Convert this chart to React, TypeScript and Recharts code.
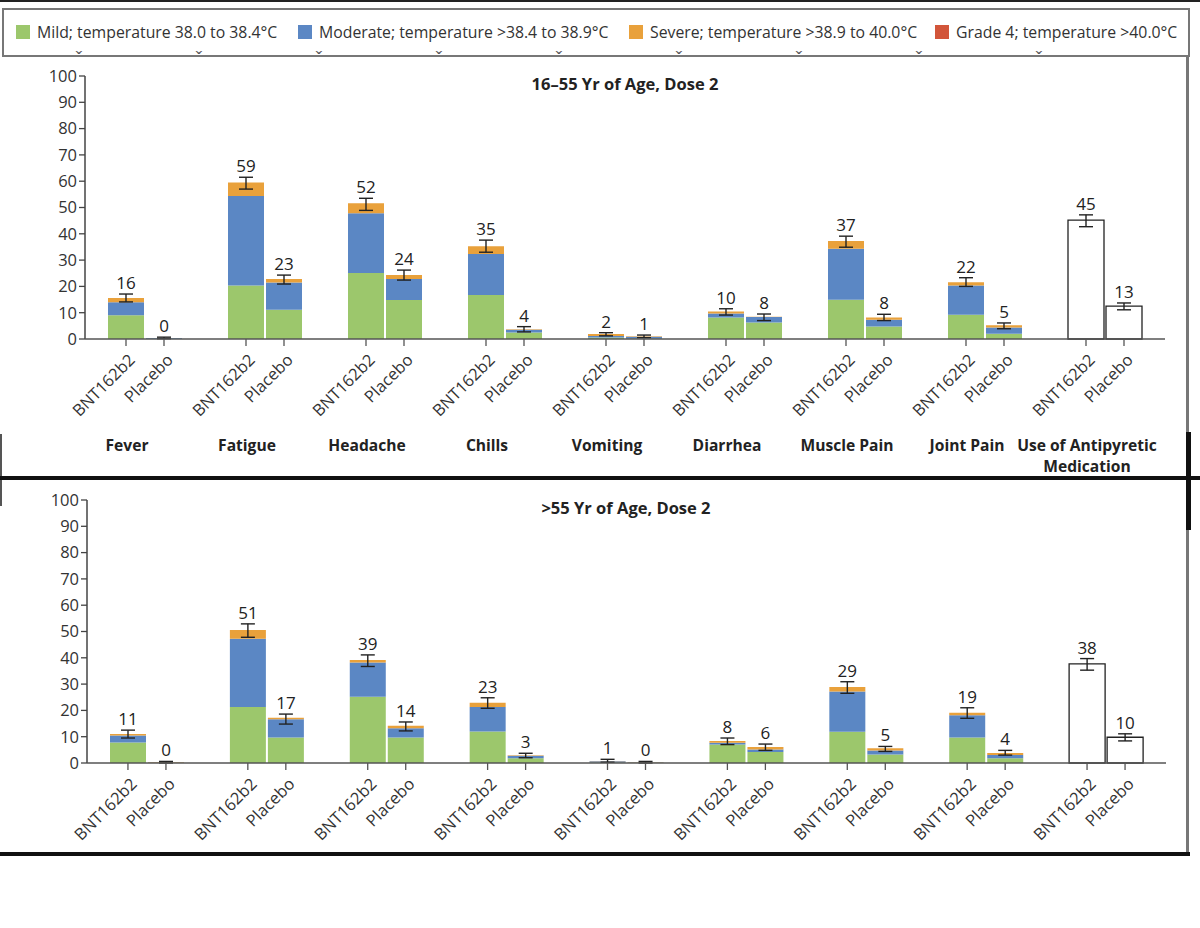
import React from 'react';
import { BarChart, Bar, XAxis, YAxis, ErrorBar, LabelList } from 'recharts';

// categories and axis ticks
const categories = [
  'Fever', 'Fatigue', 'Headache', 'Chills', 'Vomiting',
  'Diarrhea', 'Muscle Pain', 'Joint Pain', 'Use of Antipyretic\nMedication',
];
const groupNames = ['BNT162b2', 'Placebo'];
const yTicks = [0, 10, 20, 30, 40, 50, 60, 70, 80, 90, 100];

// 16–55 yr of age, dose 2 (percent of participants)
const youngBntMild = [9.0, 20.3, 25.1, 16.7, 0.6, 8.2, 14.9, 9.2, 0];
const youngBntModerate = [5.0, 34.1, 22.7, 15.6, 0.5, 1.5, 19.4, 11.1, 0];
const youngBntSevere = [1.6, 5.1, 3.8, 3.0, 0.8, 0.8, 3.0, 1.3, 0];
const youngBntGrade4 = [0, 0, 0, 0, 0, 0, 0, 0, 0];
const youngBntMedication = [0, 0, 0, 0, 0, 0, 0, 0, 45.2];
const youngBntErr = [[1.5, 1.5], [2.5, 2.0], [2.7, 1.9], [2.3, 2.3], [0.7, 0.5], [1.4, 1.0], [2.4, 1.8], [1.6, 1.7], [2.5, 2.0]];
const youngBntLabel = [16, 59, 52, 35, 2, 10, 37, 22, 45];

const youngPlaceboMild = [0.1, 11.1, 14.8, 2.5, 0.2, 6.3, 4.8, 2.0, 0];
const youngPlaceboModerate = [0.3, 10.4, 8.0, 1.0, 0.7, 2.1, 2.5, 2.4, 0];
const youngPlaceboSevere = [0, 1.3, 1.5, 0.2, 0.1, 0.1, 0.9, 0.8, 0];
const youngPlaceboGrade4 = [0, 0, 0, 0, 0, 0, 0, 0, 0];
const youngPlaceboMedication = [0, 0, 0, 0, 0, 0, 0, 0, 12.5];
const youngPlaceboErr = [[0.3, 0.3], [1.9, 1.5], [1.9, 1.9], [1.0, 1.0], [0.5, 0.5], [1.5, 1.0], [1.2, 1.2], [1.3, 0.9], [1.4, 1.2]];
const youngPlaceboLabel = [0, 23, 24, 4, 1, 8, 8, 5, 13];

// >55 yr of age, dose 2
const oldBntMild = [7.8, 21.3, 25.2, 12.0, 0.2, 7.0, 11.9, 9.7, 0];
const oldBntModerate = [2.7, 25.9, 13.0, 9.3, 0.5, 0.7, 15.3, 8.5, 0];
const oldBntSevere = [0.5, 3.4, 1.0, 1.6, 0.1, 0.7, 1.7, 0.9, 0];
const oldBntGrade4 = [0, 0, 0, 0, 0, 0, 0, 0, 0];
const oldBntMedication = [0, 0, 0, 0, 0, 0, 0, 0, 37.7];
const oldBntErr = [[1.5, 1.5], [2.8, 2.3], [2.5, 1.9], [2.1, 1.9], [0.5, 0.6], [1.4, 1.1], [2.4, 2.0], [2.1, 1.9], [2.4, 2.0]];
const oldBntLabel = [11, 51, 39, 23, 1, 8, 29, 19, 38];

const oldPlaceboMild = [0, 9.7, 9.7, 1.8, 0.1, 4.2, 3.2, 1.8, 0];
const oldPlaceboModerate = [0.1, 6.9, 3.5, 1.0, 0.1, 0.9, 1.6, 1.2, 0];
const oldPlaceboSevere = [0.2, 0.6, 1.0, 0.1, 0.1, 1.0, 0.8, 0.8, 0];
const oldPlaceboGrade4 = [0, 0, 0, 0, 0, 0, 0, 0, 0];
const oldPlaceboMedication = [0, 0, 0, 0, 0, 0, 0, 0, 9.8];
const oldPlaceboErr = [[0.3, 0.3], [2.4, 1.4], [2.0, 1.4], [0.9, 0.8], [0.3, 0.3], [1.3, 1.1], [1.2, 0.7], [0.8, 1.0], [1.4, 1.3]];
const oldPlaceboLabel = [0, 17, 14, 3, 0, 6, 5, 4, 10];

const legendItems = [
  { label: 'Mild; temperature 38.0 to 38.4°C', color: '#9CC76C', left: 16 },
  { label: 'Moderate; temperature >38.4 to 38.9°C', color: '#5B87C4', left: 298 },
  { label: 'Severe; temperature >38.9 to 40.0°C', color: '#E9A13B', left: 629 },
  { label: 'Grade 4; temperature >40.0°C', color: '#D2553A', left: 935 },
];

type Group = {
  mild: number[]; moderate: number[]; severe: number[]; grade4: number[];
  medication: number[]; err: number[][]; label: number[];
};

// the invisible "pad" segment sits on top of each stack (height = upper error),
// it carries the error bar (measured down from its top) and the value label
function buildRows(b: Group, p: Group) {
  return categories.map((category, i) => ({
    category,
    bMild: b.mild[i], bModerate: b.moderate[i], bSevere: b.severe[i], bGrade4: b.grade4[i],
    bMed: b.medication[i], bPad: b.err[i][1], bErr: [b.err[i][0] + b.err[i][1], 0], bLabel: b.label[i],
    pMild: p.mild[i], pModerate: p.moderate[i], pSevere: p.severe[i], pGrade4: p.grade4[i],
    pMed: p.medication[i], pPad: p.err[i][1], pErr: [p.err[i][0] + p.err[i][1], 0], pLabel: p.label[i],
  }));
}

const youngRows = buildRows(
  { mild: youngBntMild, moderate: youngBntModerate, severe: youngBntSevere, grade4: youngBntGrade4, medication: youngBntMedication, err: youngBntErr, label: youngBntLabel },
  { mild: youngPlaceboMild, moderate: youngPlaceboModerate, severe: youngPlaceboSevere, grade4: youngPlaceboGrade4, medication: youngPlaceboMedication, err: youngPlaceboErr, label: youngPlaceboLabel },
);
const oldRows = buildRows(
  { mild: oldBntMild, moderate: oldBntModerate, severe: oldBntSevere, grade4: oldBntGrade4, medication: oldBntMedication, err: oldBntErr, label: oldBntLabel },
  { mild: oldPlaceboMild, moderate: oldPlaceboModerate, severe: oldPlaceboSevere, grade4: oldPlaceboGrade4, medication: oldPlaceboMedication, err: oldPlaceboErr, label: oldPlaceboLabel },
);

const BAR = 36;
const GAP = 2;

function GroupTick(props: any) {
  const { x, y, payload, showCategory } = props;
  const half = (BAR + GAP) / 2;
  const lines = String(payload.value).split('\n');
  return (
    <g>
      {groupNames.map((name, k) => {
        const cx = x + (k === 0 ? -half : half);
        const tx = cx + 10;
        const ty = y + 22;
        return (
          <g key={name}>
            <line x1={cx} x2={cx} y1={y} y2={y + 7} stroke="#555" strokeWidth={1.3} />
            <text x={tx} y={ty} textAnchor="end" fontSize={16.5} fill="#333" transform={`rotate(-45 ${tx} ${ty})`}>
              {name}
            </text>
          </g>
        );
      })}
      {showCategory &&
        lines.map((line, i) => (
          <text key={i} x={x - 18} y={y + 112 + i * 21} textAnchor="middle" fontSize={15.6} fontWeight={700} fill="#222">
            {line}
          </text>
        ))}
    </g>
  );
}

function stackBars(prefix: string) {
  const stackId = prefix;
  return [
    <Bar key={prefix + 'Mild'} dataKey={prefix + 'Mild'} stackId={stackId} fill="#9CC76C" barSize={BAR} isAnimationActive={false} />,
    <Bar key={prefix + 'Moderate'} dataKey={prefix + 'Moderate'} stackId={stackId} fill="#5B87C4" barSize={BAR} isAnimationActive={false} />,
    <Bar key={prefix + 'Severe'} dataKey={prefix + 'Severe'} stackId={stackId} fill="#E9A13B" barSize={BAR} isAnimationActive={false} />,
    <Bar key={prefix + 'Grade4'} dataKey={prefix + 'Grade4'} stackId={stackId} fill="#D2553A" barSize={BAR} isAnimationActive={false} />,
    <Bar key={prefix + 'Med'} dataKey={prefix + 'Med'} stackId={stackId} fill="#fff" stroke="#222" strokeWidth={1.3} barSize={BAR} isAnimationActive={false} />,
    <Bar key={prefix + 'Pad'} dataKey={prefix + 'Pad'} stackId={stackId} fill="none" barSize={BAR} isAnimationActive={false}>
      <ErrorBar dataKey={prefix + 'Err'} direction="y" width={7} stroke="#222" strokeWidth={1.4} />
      <LabelList dataKey={prefix + 'Label'} position="top" offset={5} fontSize={17} fill="#222" />
    </Bar>,
  ];
}

function DoseChart({ rows, height, left, right, axisHeight, showCategory }: any) {
  return (
    <BarChart width={1200} height={height} data={rows} barGap={GAP} barSize={BAR}
      margin={{ top: 16, right, left, bottom: 0 }}>
      <YAxis domain={[0, 100]} ticks={yTicks} interval={0} width={60} tickSize={6}
        tick={{ fontSize: 16.5, fill: '#333' }} axisLine={{ stroke: '#444', strokeWidth: 1.5 }} tickLine={{ stroke: '#444', strokeWidth: 1.3 }} />
      <XAxis dataKey="category" interval={0} height={axisHeight} tickSize={0} tickMargin={0} tickLine={false}
        axisLine={{ stroke: '#555', strokeWidth: 1.6 }}
        tick={(p: any) => <GroupTick {...p} showCategory={showCategory} />} />
      {stackBars('b')}
      {stackBars('p')}
    </BarChart>
  );
}

const chevrons = [0, 1, 2, 3, 4, 5, 6, 7, 8];

export default function App() {
  return (
    <div style={{ position: 'absolute', left: 0, top: 0, width: 1200, height: 928, background: '#fff', fontFamily: "'Open Sans', sans-serif", color: '#333', overflow: 'hidden' }}>
      {/* screenshot frame */}
      <div style={{ position: 'absolute', left: 0, top: 0, width: 1200, height: 2, background: '#222' }} />
      <div style={{ position: 'absolute', left: 2, top: 8, width: 1188, height: 49, border: '2px solid #777', boxSizing: 'border-box' }} />
      <div style={{ position: 'absolute', left: 1186, top: 57, width: 3, height: 798, background: '#777' }} />
      <div style={{ position: 'absolute', left: 1186, top: 432, width: 5, height: 98, background: '#111' }} />
      <div style={{ position: 'absolute', left: 0, top: 434, width: 2, height: 72, background: '#555' }} />
      <div style={{ position: 'absolute', left: 0, top: 476, width: 1200, height: 4, background: '#111' }} />
      <div style={{ position: 'absolute', left: 0, top: 852, width: 1190, height: 4, background: '#111' }} />

      {legendItems.map((it) => (
        <div key={it.label} style={{ position: 'absolute', left: it.left, top: 21, display: 'flex', alignItems: 'center', fontSize: 15.8, color: '#333', whiteSpace: 'nowrap' }}>
          <span style={{ display: 'inline-block', width: 14, height: 14, background: it.color, marginRight: 7 }} />
          {it.label}
        </div>
      ))}
      {chevrons.map((k) => (
        <div key={k} style={{ position: 'absolute', left: 75 + k * 120, top: 45, fontSize: 19, color: '#555' }}>ˇ</div>
      ))}

      <div style={{ position: 'absolute', left: 0, top: 60 }}>
        <DoseChart rows={youngRows} height={422} left={25} right={35} axisHeight={143} showCategory />
      </div>
      <div style={{ position: 'absolute', left: 425, width: 400, top: 72, textAlign: 'center', fontSize: 16.5, fontWeight: 700, color: '#222' }}>
        16–55 Yr of Age, Dose 2
      </div>

      <div style={{ position: 'absolute', left: 0, top: 484 }}>
        <DoseChart rows={oldRows} height={369} left={27} right={34} axisHeight={90} showCategory={false} />
      </div>
      <div style={{ position: 'absolute', left: 426, width: 400, top: 496, textAlign: 'center', fontSize: 16.5, fontWeight: 700, color: '#222' }}>
        &gt;55 Yr of Age, Dose 2
      </div>
    </div>
  );
}
